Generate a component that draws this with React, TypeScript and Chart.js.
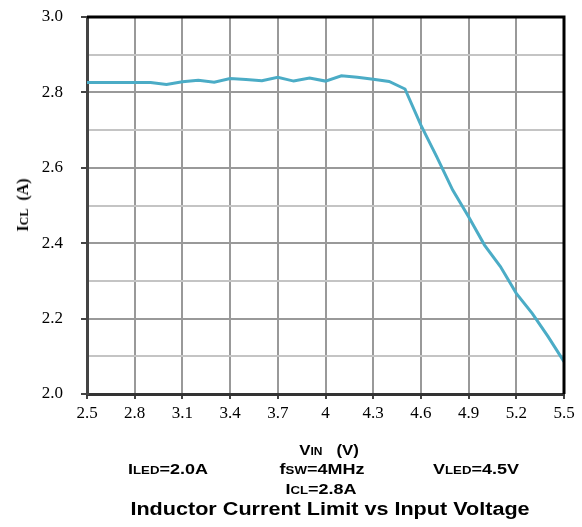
import React, { useEffect, useRef } from "react";
import { Chart, registerables } from "chart.js";

Chart.register(...registerables);

// ---- Data ----
const vin = [
  2.5, 2.6, 2.7, 2.8, 2.9, 3.0, 3.1, 3.2, 3.3, 3.4, 3.5, 3.6, 3.7, 3.8, 3.9, 4.0,
  4.1, 4.2, 4.3, 4.4, 4.5, 4.6, 4.7, 4.8, 4.9, 5.0, 5.1, 5.2, 5.3, 5.4, 5.5,
];
const icl = [
  2.826, 2.826, 2.826, 2.826, 2.826, 2.821, 2.828, 2.832, 2.827, 2.837, 2.834,
  2.831, 2.84, 2.83, 2.838, 2.83, 2.844, 2.84, 2.835, 2.829, 2.809, 2.713, 2.629,
  2.541, 2.47, 2.395, 2.338, 2.267, 2.214, 2.152, 2.086,
];
const xTickValues = [2.5, 2.8, 3.1, 3.4, 3.7, 4.0, 4.3, 4.6, 4.9, 5.2, 5.5];
const xTickLabels = ["2.5", "2.8", "3.1", "3.4", "3.7", "4", "4.3", "4.6", "4.9", "5.2", "5.5"];
const yTickValues = [2.0, 2.1, 2.2, 2.3, 2.4, 2.5, 2.6, 2.7, 2.8, 2.9, 3.0];
const yTickLabels = ["2.0", "", "2.2", "", "2.4", "", "2.6", "", "2.8", "", "3.0"];

const W = 582;
const H = 527;

const framePlugin = {
  id: "frame",
  afterDraw(chart: any) {
    const { ctx, chartArea } = chart;
    const { left, top, right, bottom } = chartArea;
    ctx.save();
    ctx.strokeStyle = "#000";
    ctx.lineWidth = 3;
    ctx.beginPath();
    ctx.moveTo(left, top);
    ctx.lineTo(right, top);
    ctx.lineTo(right, bottom);
    ctx.stroke();
    ctx.restore();
  },
};

const sans = "'Liberation Sans', Arial, sans-serif";
const tickFont = { family: "'Liberation Serif', serif", size: 17 };

function Label(props: { cx: number; top: number; size: number; children: any }) {
  return (
    <div
      style={{
        position: "absolute",
        left: props.cx,
        top: props.top,
        transform: "translateX(-50%) scaleX(1.2)",
        fontFamily: sans,
        fontWeight: "bold",
        fontSize: props.size,
        lineHeight: 1,
        whiteSpace: "nowrap",
        color: "#000",
      }}
    >
      {props.children}
    </div>
  );
}

export default function App() {
  const canvasRef = useRef<HTMLCanvasElement | null>(null);

  useEffect(() => {
    const canvas = canvasRef.current;
    if (!canvas) return;
    const chart = new Chart(canvas, {
      type: "line",
      data: {
        datasets: [
          {
            data: vin.map((x, i) => ({ x, y: icl[i] })),
            borderColor: "#4BACC6",
            borderWidth: 3,
            pointRadius: 0,
            tension: 0,
            fill: false,
          },
        ],
      },
      options: {
        responsive: false,
        animation: false,
        devicePixelRatio: 1,
        layout: { padding: { top: 17, right: 18, left: 0, bottom: 103 } },
        plugins: { legend: { display: false }, tooltip: { enabled: false } },
        scales: {
          x: {
            type: "linear",
            min: 2.5,
            max: 5.5,
            afterBuildTicks: (s: any) => {
              s.ticks = xTickValues.map((v) => ({ value: v }));
            },
            afterFit: (s: any) => {
              s.height = 30;
              s.paddingLeft = 0;
              s.paddingRight = 0;
            },
            ticks: {
              autoSkip: false,
              maxRotation: 0,
              callback: (_v: any, i: number) => xTickLabels[i],
              color: "#000",
              font: tickFont,
              padding: 4,
            },
            grid: { color: "#999", lineWidth: 2, tickLength: 5, tickColor: "#444" },
            border: { color: "#333", width: 3 },
          },
          y: {
            type: "linear",
            min: 2.0,
            max: 3.0,
            afterBuildTicks: (s: any) => {
              s.ticks = yTickValues.map((v) => ({ value: v }));
            },
            afterFit: (s: any) => {
              s.width = 87;
              s.paddingTop = 0;
              s.paddingBottom = 0;
            },
            ticks: {
              autoSkip: false,
              callback: (_v: any, i: number) => yTickLabels[i],
              color: "#000",
              font: tickFont,
              padding: 18,
            },
            grid: {
              color: (c: any) => (c.index % 2 === 0 ? "#999" : "#c4c4c4"),
              lineWidth: 2,
              tickLength: 6,
              tickColor: (c: any) => (c.index % 2 === 0 ? "#444" : "rgba(0,0,0,0)"),
            },
            border: { color: "#444", width: 3 },
          },
        },
      },
      plugins: [framePlugin],
    } as any);
    return () => chart.destroy();
  }, []);

  return (
    <div style={{ position: "absolute", left: 0, top: 0, width: W, height: H, background: "#fff" }}>
      <canvas ref={canvasRef} width={W} height={H} style={{ display: "block", width: W, height: H }} />
      <div
        style={{
          position: "absolute",
          left: 23,
          top: 205,
          transform: "translate(-50%, -50%) rotate(-90deg)",
          fontFamily: "'Liberation Serif', serif",
          fontWeight: "bold",
          fontSize: 16,
          lineHeight: 1,
          whiteSpace: "nowrap",
          color: "#000",
        }}
      >
        I<span style={{ fontSize: 12 }}>CL</span>{"\u00a0\u00a0"}(A)
      </div>
      <Label cx={329} top={443} size={14}>
        V<span style={{ fontSize: 10 }}>IN</span>
        {"\u00a0\u00a0\u00a0"}(V)
      </Label>
      <Label cx={168} top={461} size={15}>
        I<span style={{ fontSize: 11 }}>LED</span>=2.0A
      </Label>
      <Label cx={322} top={461} size={15}>
        f<span style={{ fontSize: 11 }}>SW</span>=4MHz
      </Label>
      <Label cx={476} top={461} size={15}>
        V<span style={{ fontSize: 11 }}>LED</span>=4.5V
      </Label>
      <Label cx={321} top={481} size={15}>
        I<span style={{ fontSize: 11 }}>CL</span>=2.8A
      </Label>
      <Label cx={330} top={500} size={18}>
        Inductor Current Limit vs Input Voltage
      </Label>
    </div>
  );
}
